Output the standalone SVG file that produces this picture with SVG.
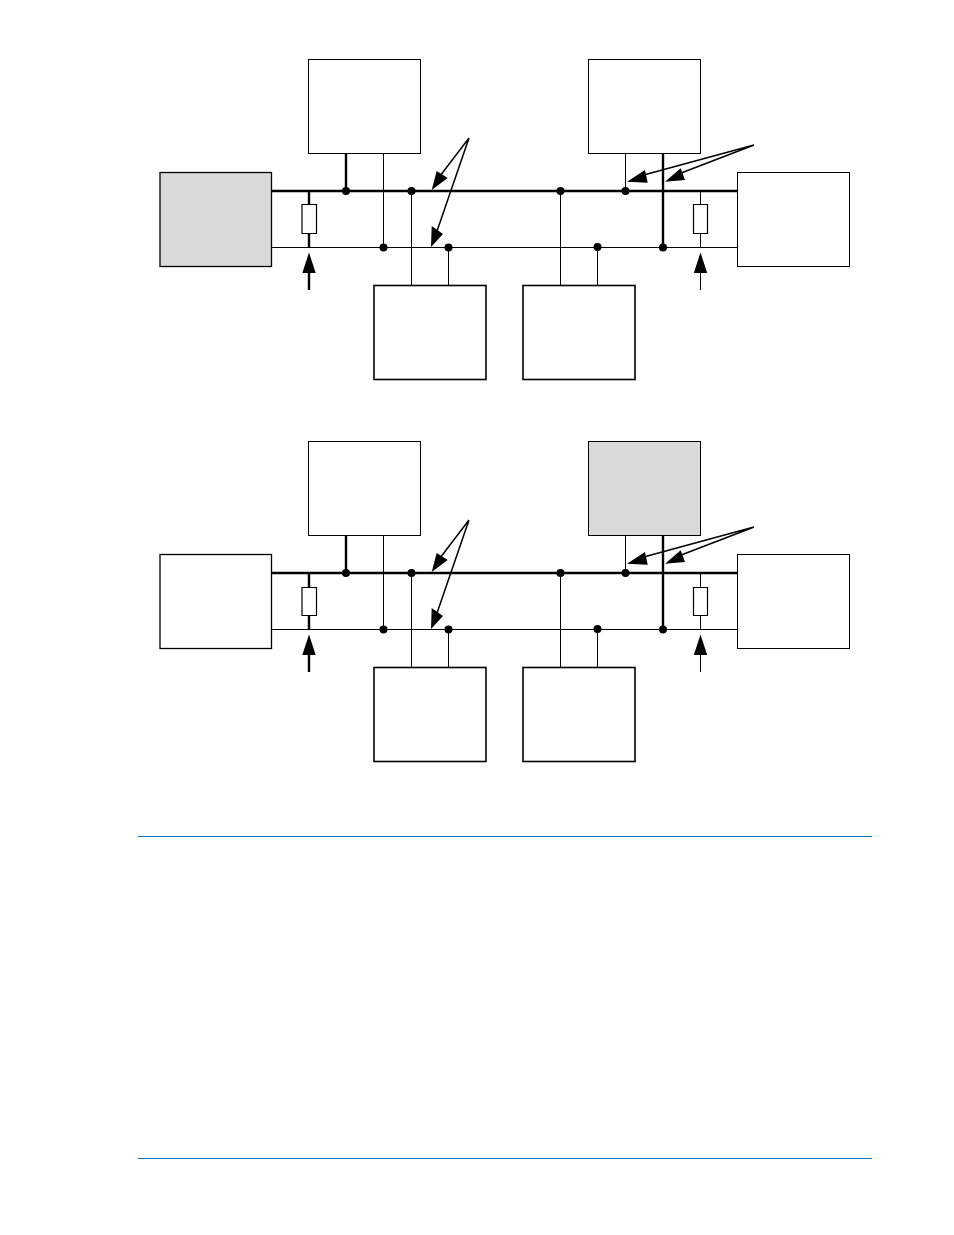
<svg xmlns="http://www.w3.org/2000/svg" width="954" height="1235" viewBox="0 0 954 1235">
<style>
.box{fill:#fff;stroke:#000;stroke-width:1}
.gray{fill:#d9d9d9}
.bl{stroke-width:1.3}
.bb{stroke-width:1.6}
.thick{fill:none;stroke:#000;stroke-width:2.4}
.thin{fill:none;stroke:#000;stroke-width:1}
.ptr{fill:none;stroke:#000;stroke-width:1.5}
.res{fill:#fff;stroke:#000;stroke-width:1.2}
.head{fill:#000;stroke:none}
.rule{stroke:#0a78c8;stroke-width:1}
</style>
<defs>
<circle id="dot" r="4" fill="#000"/>
</defs>
<g id="connectors-top">
<path class="thick" d="M271 191H738M346 153V191M663 153V247M309 191V205"/>
<path class="thin" d="M271 247.500H738M383.500 153V247M411.500 191V286M448.500 247V286M560.500 191V286M597.500 247V286M625.500 153V191M700.500 191V205M700.500 233V247M700.500 272V290"/>
<path class="thick" d="M309 233V247M309 272V290"/>
<path class="res" d="M302 204.500h14.500v29h-14.500z"/>
<path class="res" d="M693.500 204.500h14v29h-14z"/>
<use href="#dot" x="346" y="191"/><use href="#dot" x="411.500" y="191"/><use href="#dot" x="560.500" y="191"/><use href="#dot" x="625.500" y="191"/>
<use href="#dot" x="383.500" y="247.500"/><use href="#dot" x="448.500" y="247.500"/><use href="#dot" x="597.500" y="247"/><use href="#dot" x="663" y="247.500"/>
<path class="ptr" d="M469 138L440 176M469 138L436 234M754 145L640 176M754 145L676 175"/>
<polygon class="head" points="431.700,190 447.700,178 436.700,171"/>
<polygon class="head" points="431,247 443,234 431.700,226"/>
<polygon class="head" points="627,181.700 645,170 647.700,182.700"/>
<polygon class="head" points="665,181.700 680.700,168.300 685,180"/>
<polygon class="head" points="309,252.500 302.300,273 315.700,273"/>
<polygon class="head" points="700.500,252.500 693.800,273 707.200,273"/>
</g>
<g id="top-left"><rect class="box gray bl" x="160" y="172.500" width="111.500" height="94"/></g>
<g id="top-a"><rect class="box" x="308.500" y="59.500" width="112" height="94"/></g>
<g id="top-b"><rect class="box" x="588.500" y="59.500" width="112" height="94"/></g>
<g id="top-right"><rect class="box" x="737.500" y="172.500" width="112" height="94"/></g>
<g id="top-c"><rect class="box bb" x="374" y="285.500" width="112" height="94"/></g>
<g id="top-d"><rect class="box bb" x="523" y="285.500" width="112" height="94"/></g>

<g id="connectors-bottom">
<path class="thick" d="M271 573H738M346 535V573M663 535V629M309 573V587"/>
<path class="thin" d="M271 629.500H738M383.500 535V629M411.500 573V668M448.500 629V668M560.500 573V668M597.500 629V668M625.500 535V573M700.500 573V587M700.500 615V629M700.500 654V672"/>
<path class="thick" d="M309 615V629M309 654V672"/>
<path class="res" d="M302 587.500h14.500v28h-14.500z"/>
<path class="res" d="M693.500 587.500h14v28h-14z"/>
<use href="#dot" x="346" y="573"/><use href="#dot" x="411.500" y="573"/><use href="#dot" x="560.500" y="573"/><use href="#dot" x="625.500" y="573"/>
<use href="#dot" x="383.500" y="629.500"/><use href="#dot" x="448.500" y="629.500"/><use href="#dot" x="597.500" y="629"/><use href="#dot" x="663" y="629.500"/>
<path class="ptr" d="M469 520L440 558M469 520L436 616M754 527L640 558M754 527L676 557"/>
<polygon class="head" points="431.700,572 447.700,560 436.700,553"/>
<polygon class="head" points="431,629 443,616 431.700,608"/>
<polygon class="head" points="627,563.700 645,552 647.700,564.700"/>
<polygon class="head" points="665,563.700 680.700,550.300 685,562"/>
<polygon class="head" points="309,634.500 302.300,655 315.700,655"/>
<polygon class="head" points="700.500,634.500 693.800,655 707.200,655"/>
</g>
<g id="bottom-left"><rect class="box bl" x="160" y="554.500" width="111.500" height="94"/></g>
<g id="bottom-a"><rect class="box" x="308.500" y="441.500" width="112" height="94"/></g>
<g id="bottom-b"><rect class="box gray" x="588.500" y="441.500" width="112" height="94"/></g>
<g id="bottom-right"><rect class="box" x="737.500" y="554.500" width="112" height="94"/></g>
<g id="bottom-c"><rect class="box bb" x="374" y="667.500" width="112" height="94"/></g>
<g id="bottom-d"><rect class="box bb" x="523" y="667.500" width="112" height="94"/></g>

<line class="rule" x1="138" y1="836.500" x2="872" y2="836.500"/>
<line class="rule" x1="138" y1="1158.500" x2="872" y2="1158.500"/>
</svg>
